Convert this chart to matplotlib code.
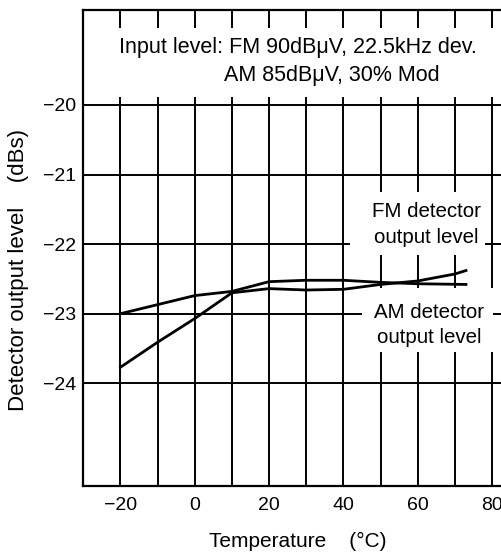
import matplotlib.pyplot as plt
from matplotlib.patches import Rectangle

plt.rcParams['font.family'] = ['Liberation Sans', 'DejaVu Sans']

# temperature (deg C) and detector output (dBs)
fm_temp = [-20, -10, 0, 10, 20, 30, 40, 50, 60, 70, 73]
fm_level = [-23.77, -23.41, -23.07, -22.70, -22.64, -22.66, -22.65, -22.58, -22.53, -22.43, -22.38]
am_temp = [-20, -10, 0, 10, 20, 30, 40, 50, 60, 73]
am_level = [-23.0, -22.87, -22.74, -22.68, -22.54, -22.52, -22.52, -22.55, -22.57, -22.58]

x_ticks = [-20, 0, 20, 40, 60, 80]
y_ticks = [-20, -21, -22, -23, -24]

fig = plt.figure(figsize=(5.02, 5.53), dpi=100)
ax = fig.add_axes([0.166, 0.122, 0.834, 0.860])
ax.set_xlim(-30, 82.7)
ax.set_ylim(-25.47, -18.635)

# grid: every 10 degrees, one line per dB
for t in range(-20, 90, 10):
    ax.axvline(t, color='black', lw=1.4, zorder=0.5)
for v in y_ticks:
    ax.axhline(v, color='black', lw=1.4, zorder=0.5)

# white areas behind the text blocks
white = dict(facecolor='white', edgecolor='none', zorder=1)
ax.add_patch(Rectangle((-29.5, -19.885), 115, 0.995, **white))
ax.add_patch(Rectangle((41.9, -22.155), 36.2, 0.905, **white))
ax.add_patch(Rectangle((45.1, -23.55), 35.2, 0.92, **white))

ax.plot(fm_temp, fm_level, color='black', lw=2, zorder=3)
ax.plot(am_temp, am_level, color='black', lw=2, zorder=3)

ax.text(-20.3, -19.18, 'Input level: FM 90dBμV, 22.5kHz dev.', fontsize=15.5,
        ha='left', va='center', zorder=4)
ax.text(7.8, -19.57, 'AM 85dBμV, 30% Mod', fontsize=15.5,
        ha='left', va='center', zorder=4)
fs = 14.8
ax.text(62.3, -21.53, 'FM detector', fontsize=fs, ha='center', va='center', zorder=4)
ax.text(62.3, -21.90, 'output level', fontsize=fs, ha='center', va='center', zorder=4)
ax.text(63.2, -22.98, 'AM detector', fontsize=fs, ha='center', va='center', zorder=4)
ax.text(63.2, -23.34, 'output level', fontsize=fs, ha='center', va='center', zorder=4)

ax.set_xticks(x_ticks)
ax.set_yticks(y_ticks)
ax.tick_params(length=0, labelsize=14)
ax.tick_params(axis='y', pad=5)
ax.tick_params(axis='x', pad=8)
for side in ['left', 'top', 'bottom']:
    ax.spines[side].set_linewidth(1.6)
ax.spines['right'].set_visible(False)

fig.text(298 / 502, 1 - 541 / 553, 'Temperature    (°C)', fontsize=15,
         ha='center', va='center')
fig.text(19 / 502, 1 - 270 / 553, 'Detector output level    (dBs)', fontsize=16,
         ha='center', va='center', rotation=90)

fig.savefig('out.png', dpi=100)
